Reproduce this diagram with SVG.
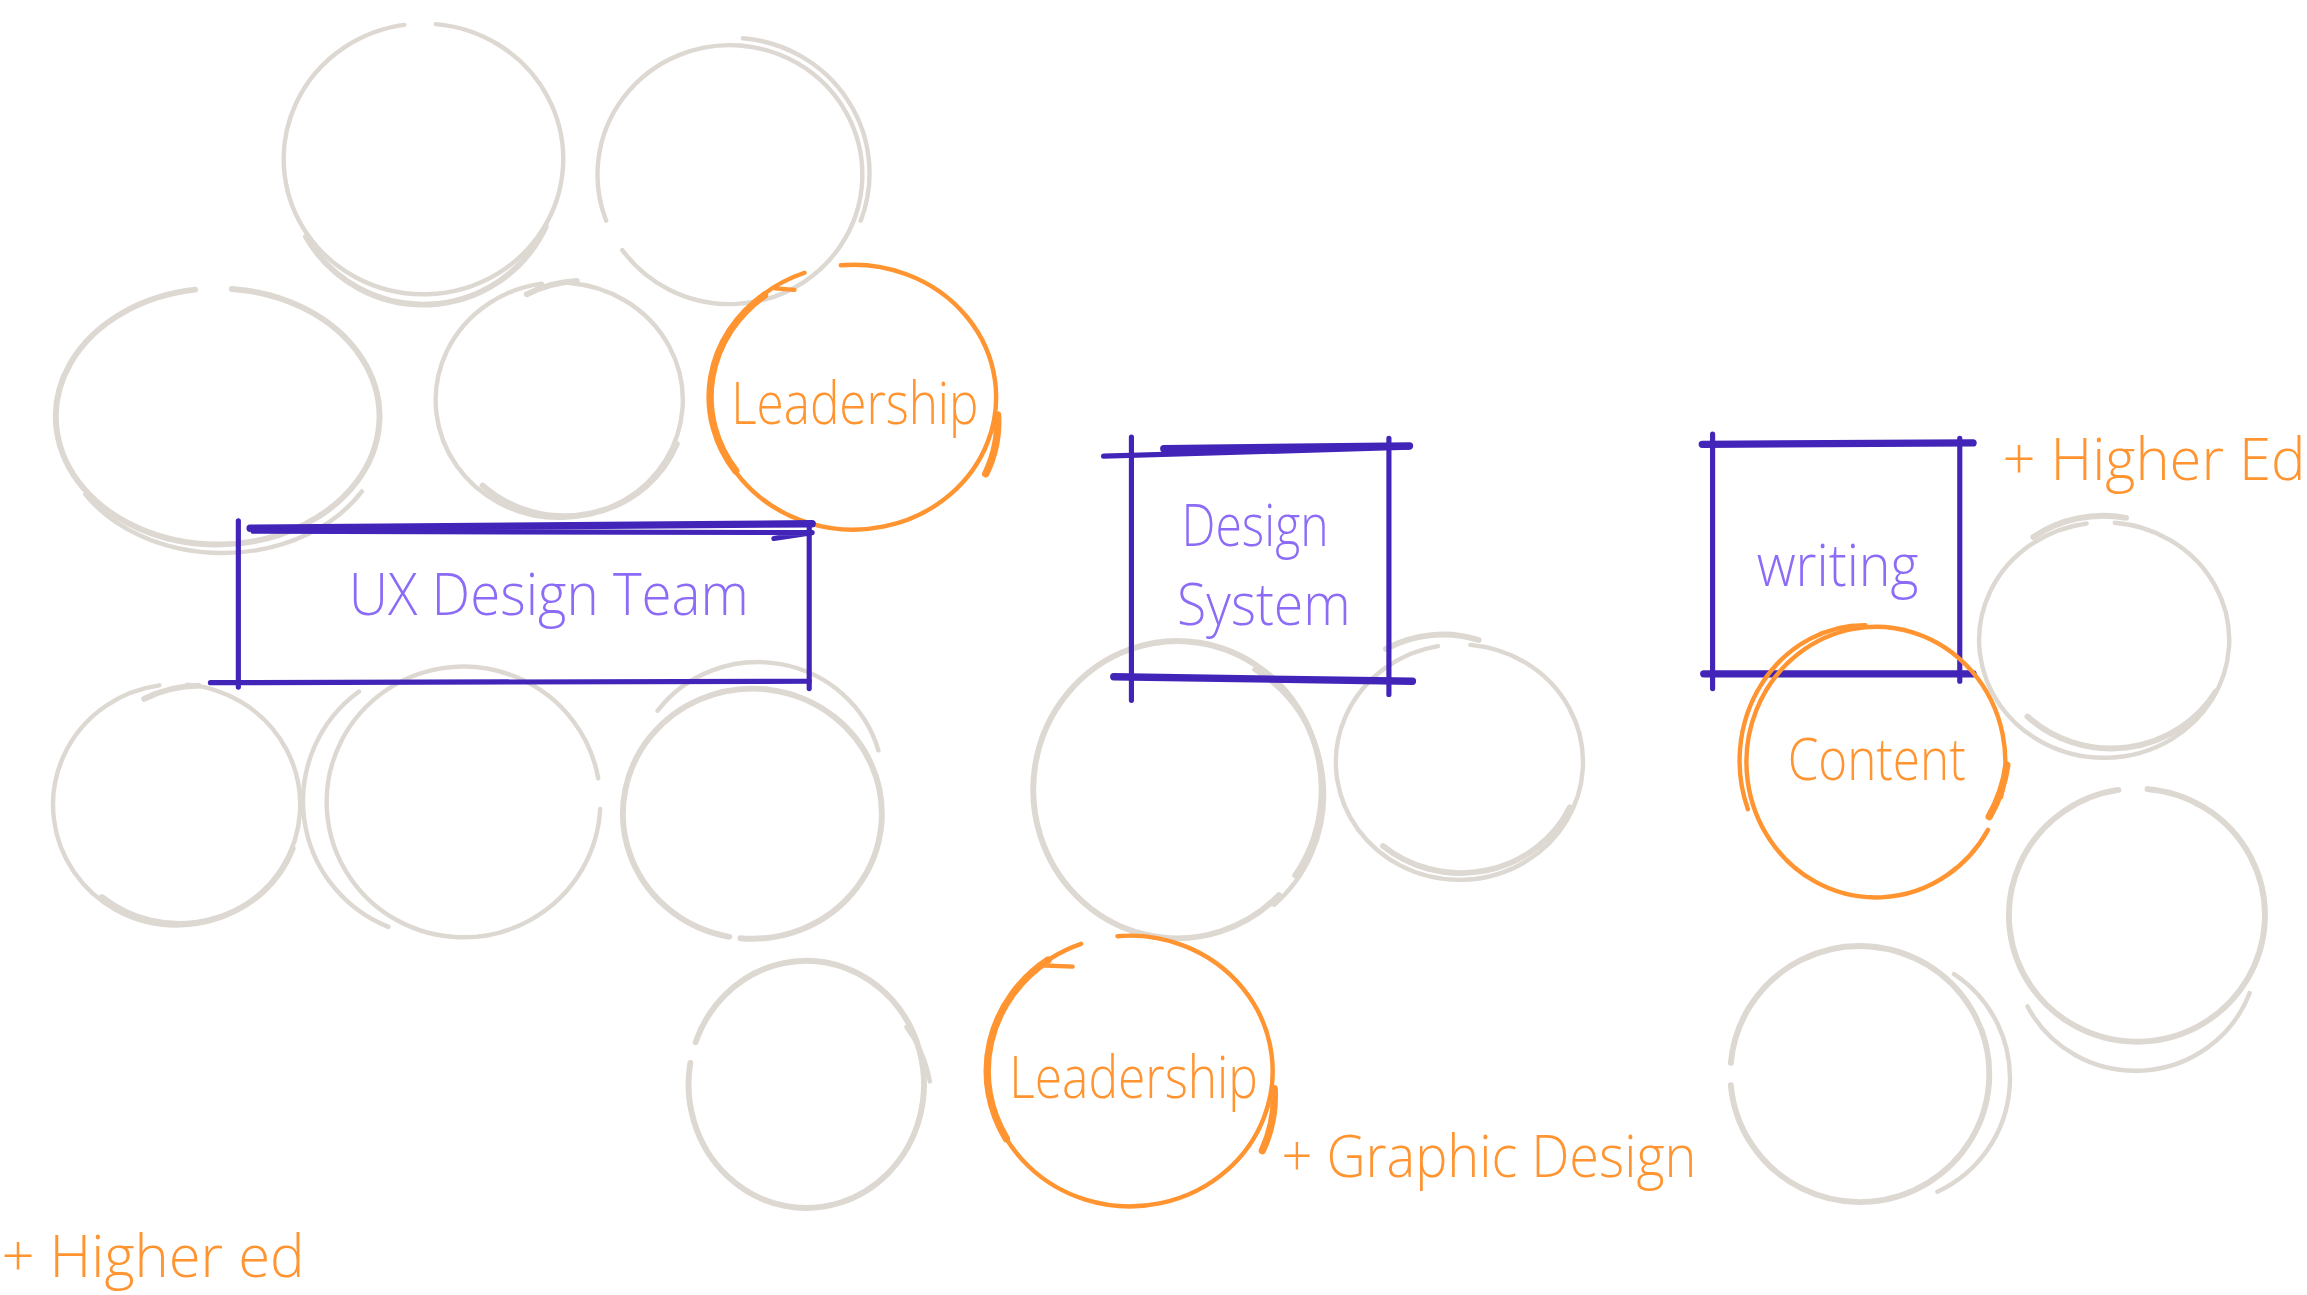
<svg xmlns="http://www.w3.org/2000/svg" width="2307" height="1295" viewBox="0 0 2307 1295">
<style>
.g{fill:none;stroke:#DDD8D1;stroke-width:3;stroke-linecap:round}
.g2{fill:none;stroke:#DDD8D1;stroke-width:4;stroke-linecap:round}
.o{fill:none;stroke:#FF9430;stroke-width:3;stroke-linecap:round}
.o2{fill:none;stroke:#FF9430;stroke-width:5;stroke-linecap:round}
.p{fill:none;stroke:#4224B8;stroke-width:3.5;stroke-linecap:round}
.p2{fill:none;stroke:#4224B8;stroke-width:5;stroke-linecap:round}
.tp{font-family:"Open Sans","DejaVu Sans",sans-serif;font-weight:300;font-size:40px;fill:#8C6CF7}
.to{font-family:"Open Sans","DejaVu Sans",sans-serif;font-weight:300;font-size:40px;fill:#FF9430}
</style>
<rect width="2307" height="1295" fill="#FFFFFF"/>
<g transform="scale(1.4713)">
<g id="circles-gray">
<g id="g1"><path class="g" d="M296.3,16.4 A95,92 0 1 1 274.8,16.9"/><path class="g2" d="M371,154 A92,92 0 0 1 208,161"/></g>
<g id="g2"><path class="g" d="M412,150 A90,88 0 1 1 423,170"/><path class="g" d="M505,26 A94,92 0 0 1 585,150"/></g>
<g id="g3"><path class="g2" d="M157.6,196.4 A110,87 0 1 1 132.7,196.9"/><path class="g" d="M246,334 A110,85 0 0 1 58,336"/></g>
<g id="g4"><path class="g" d="M387.3,192.3 A84,80 0 1 1 368.3,192.8"/><path class="g2" d="M358,200 A82,78 0 0 1 392,191"/><path class="g2" d="M460,301.7 A82,78 0 0 1 328,330"/></g>
<g id="g5"><path class="g" d="M127.3,465.3 A84,82 0 1 1 108.3,465.8"/><path class="g2" d="M98,475 A82,78 0 0 1 135,466"/><path class="g2" d="M199,576.7 A82,78 0 0 1 69.3,609.7"/></g>
<g id="g6"><path class="g" d="M407.9,549.8 A93,92 0 1 1 406.6,529"/><path class="g" d="M264,630 A92,92 0 0 1 244,470"/></g>
<g id="g7"><path class="g2" d="M495.7,636.7 A88,85 0 1 1 503.3,637.7"/><path class="g" d="M447,483 A85,82 0 0 1 597,510"/></g>
<g id="g8"><path class="g2" d="M472.8,708.3 A80,84 0 1 1 469.2,722.4"/><path class="g" d="M616,698 A80,84 0 0 1 632,735"/></g>
<g id="g9"><path class="g2" d="M869.3,608.4 A98,101 0 1 1 880.3,595"/><path class="g" d="M852.5,455.1 A95,98 0 0 1 866,615"/></g>
<g id="g10"><path class="g" d="M999.3,438.3 A84,80 0 1 1 977.4,439.2"/><path class="g2" d="M942,441 A80,78 0 0 1 1005,435"/><path class="g2" d="M1067,548.7 A82,78 0 0 1 940,575"/></g>
<g id="g11"><path class="g" d="M1437.4,355.3 A85,80 0 1 1 1418.2,355.8"/><path class="g2" d="M1382,365 A83,80 0 0 1 1445,352"/><path class="g2" d="M1506,470 A83,80 0 0 1 1378,487"/></g>
<g id="g12"><path class="g2" d="M1459.6,536.3 A87,86 0 1 1 1439.9,536.9"/><path class="g" d="M1529,675 A83,82 0 0 1 1378,684"/></g>
<g id="g13"><path class="g2" d="M1176.4,722.4 A88,87 0 1 1 1176.4,737.6"/><path class="g" d="M1328.1,662 A85,85 0 0 1 1316.8,810"/></g>
</g>
<g id="leadership-top">
<path class="o" d="M571.5,180.3 A97,90 0 1 1 546.8,185.4"/>
<path class="o2" d="M519.6,200.6 A97,88 0 0 0 500,320"/>
<path class="o2" d="M678,282 A97,88 0 0 1 670,322"/>
<path class="o" d="M527,196 L540,197"/>
<text class="to" x="497" y="288" textLength="168" lengthAdjust="spacingAndGlyphs">Leadership</text>
</g>
<g id="ux-design-team">
<path class="p2" d="M170,359 L552,356"/>
<path class="p" d="M172,361 L552,362 M526,366 L552,362"/>
<path class="p" d="M162,354 L162,467"/>
<path class="p" d="M550,358 L550,468"/>
<path class="p" d="M143,464 L550,463"/>
<text class="tp" x="237" y="418" textLength="272" lengthAdjust="spacingAndGlyphs">UX Design Team</text>
</g>
<g id="design-system">
<path class="p" d="M769,297 L769,476"/>
<path class="p" d="M944,298 L944,472"/>
<path class="p2" d="M791,305 L958,303"/>
<path class="p" d="M750,310 L958,304"/>
<path class="p2" d="M757,460 L960,463"/>
<text class="tp" x="803" y="371" textLength="100" lengthAdjust="spacingAndGlyphs">Design</text>
<text class="tp" x="800" y="425" textLength="118" lengthAdjust="spacingAndGlyphs">System</text>
</g>
<g id="writing">
<path class="p" d="M1164,295 L1164,468"/>
<path class="p" d="M1332,298 L1332,463"/>
<path class="p2" d="M1157,302 L1341,301"/>
<path class="p2" d="M1158,458 L1341,458"/>
<text class="tp" x="1194" y="398" textLength="110" lengthAdjust="spacingAndGlyphs">writing</text>
</g>
<g id="content">
<path class="o" d="M1351.2,564 A88,92 0 1 1 1360,541.8"/>
<path class="o" d="M1188,550 A85,92 0 0 1 1268,425"/>
<path class="o2" d="M1364,520 A88,92 0 0 1 1352,555"/>
<text class="to" x="1215" y="530" textLength="121" lengthAdjust="spacingAndGlyphs">Content</text>
</g>
<g id="leadership-bottom">
<path class="o" d="M759.5,636.3 A97,92 0 1 1 734.8,641.5"/>
<path class="o2" d="M712.3,652.6 A97,92 0 0 0 684,774"/>
<path class="o2" d="M866,740 A97,92 0 0 1 858,782"/>
<path class="o" d="M706,656 L729,657"/>
<text class="to" x="686" y="746" textLength="169" lengthAdjust="spacingAndGlyphs">Leadership</text>
</g>
<g id="labels">
<text class="to" x="1361" y="326" textLength="206" lengthAdjust="spacingAndGlyphs">+ Higher Ed</text>
<text class="to" x="871" y="800" textLength="282" lengthAdjust="spacingAndGlyphs">+ Graphic Design</text>
<text class="to" x="1" y="868" textLength="206" lengthAdjust="spacingAndGlyphs">+ Higher ed</text>
</g>
</g>
</svg>
